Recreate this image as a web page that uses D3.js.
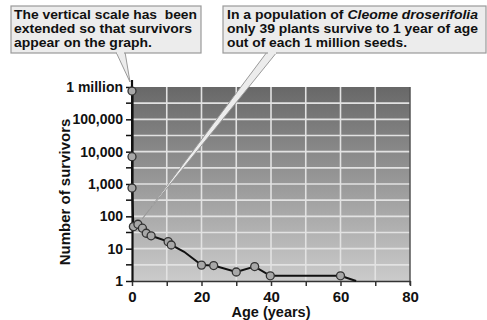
<!DOCTYPE html>
<html>
<head>
<meta charset="utf-8">
<script src="https://cdn.jsdelivr.net/npm/d3@7"></script>
<style>
  body { margin: 0; background: #fff; }
  text { font-family: "Liberation Sans", Arial, Helvetica, sans-serif; font-weight: bold; fill: #111; white-space: pre; }
</style>
</head>
<body>
<div id="chart"></div>
<script>
// Survivorship data
var ages      = [0, 0, 0, 0.4, 1.7, 3, 4.1, 5.5, 10.4, 11.3, 15, 20, 23.5, 30, 35.3, 39.8, 60, 64.5];
var survivors = [750000, 7000, 750, 48, 57, 43, 30, 25, 16.5, 13, 8, 3.1, 3, 1.9, 2.8, 1.45, 1.45, 1];
var marked    = [true, true, true, true, true, true, true, true, true, true, false, true, true, true, true, true, true, false];

// Axis ticks
var yTickValues = [1, 10, 100, 1000, 10000, 100000, 1000000];
var yTickLabels = ["1", "10", "100", "1,000", "10,000", "100,000", "1 million"];
var xTickValues = [0, 10, 20, 30, 40, 50, 60, 70, 80];
var xTickLabels = ["0", "", "20", "", "40", "", "60", "", "80"];

// Callout texts
var note1 = ["The vertical scale has  been", "extended so that survivors", "appear on the graph."];
var note2 = [
  [["In a population of ", false], ["Cleome droserifolia", true]],
  [["only 39 plants survive to 1 year of age", false]],
  [["out of each 1 million seeds.", false]]
];
// widths of the callout lines as measured on the picture
var note1Widths = [183, 178, 138];
var note2Widths = [251, 251, 180];

var svgWidth = 487;
var svgHeight = 320;

var chartMargin = { top: 87, right: 77, bottom: 39, left: 132 };
var chartWidth = svgWidth - chartMargin.left - chartMargin.right;
var chartHeight = svgHeight - chartMargin.top - chartMargin.bottom;

var svg = d3.select("#chart")
  .append("svg")
  .attr("width", svgWidth)
  .attr("height", svgHeight);

var defs = svg.append("defs");
var grad = defs.append("linearGradient")
  .attr("id", "bg")
  .attr("x1", 0).attr("y1", 0).attr("x2", 0).attr("y2", 1);
grad.append("stop").attr("offset", "0%").attr("stop-color", "#686868");
grad.append("stop").attr("offset", "100%").attr("stop-color", "#cbcbcb");

var chartGroup = svg.append("g")
  .attr("transform", `translate(${chartMargin.left}, ${chartMargin.top})`);

var xScale = d3.scaleLinear().domain([0, 80]).range([0, chartWidth]);
var yScale = d3.scaleLog().domain([1, 1000000]).range([chartHeight, 0]);

// Plot background
chartGroup.append("rect")
  .attr("width", chartWidth)
  .attr("height", chartHeight)
  .attr("fill", "url(#bg)");

// Grid lines: decades and half decades
var yGrid = [];
yTickValues.forEach(v => { yGrid.push(v); if (v < 1000000) yGrid.push(v * Math.sqrt(10)); });

chartGroup.append("g")
  .selectAll("line")
  .data(yGrid.filter(v => v > 1 && v < 1000000))
  .enter()
  .append("line")
  .attr("x1", 0).attr("x2", chartWidth)
  .attr("y1", d => yScale(d)).attr("y2", d => yScale(d))
  .attr("stroke", "#e2e2e2")
  .attr("stroke-width", 1.6);

chartGroup.append("g")
  .selectAll("line")
  .data(xTickValues.filter(v => v > 0 && v < 80))
  .enter()
  .append("line")
  .attr("x1", d => xScale(d)).attr("x2", d => xScale(d))
  .attr("y1", 0).attr("y2", chartHeight)
  .attr("stroke", "#e2e2e2")
  .attr("stroke-width", 1.6);

// Right border
chartGroup.append("line")
  .attr("x1", chartWidth).attr("x2", chartWidth)
  .attr("y1", 0).attr("y2", chartHeight + 4)
  .attr("stroke", "#555").attr("stroke-width", 1.5);

// Bottom axis
var bottomAxis = d3.axisBottom(xScale)
  .tickValues(xTickValues)
  .tickFormat((d, i) => xTickLabels[i])
  .tickSize(5)
  .tickSizeOuter(0);

var xAxis = chartGroup.append("g")
  .attr("transform", `translate(0, ${chartHeight})`)
  .call(bottomAxis);
xAxis.select(".domain").attr("stroke", "#333").attr("stroke-width", 1.5);
xAxis.selectAll(".tick line").attr("stroke", "#333").attr("stroke-width", 1.5);
xAxis.selectAll("text")
  .attr("font-size", "15px")
  .attr("font-family", null)
  .attr("y", 10);

// Left axis
var leftAxis = d3.axisLeft(yScale)
  .tickValues(yTickValues)
  .tickFormat((d, i) => yTickLabels[i])
  .tickSize(6)
  .tickSizeOuter(0);

var yAxis = chartGroup.append("g").call(leftAxis);
yAxis.select(".domain").attr("stroke", "#111").attr("stroke-width", 2.2);
yAxis.selectAll(".tick line").attr("stroke", "#111").attr("stroke-width", 1.5);
yAxis.selectAll("text")
  .attr("font-size", "14px")
  .attr("font-family", null)
  .attr("x", -9);

// Axis line runs a little above the top tick
chartGroup.append("line")
  .attr("x1", 0).attr("x2", 0)
  .attr("y1", -7).attr("y2", 0)
  .attr("stroke", "#111").attr("stroke-width", 2.2);

// Minor y ticks
chartGroup.append("g")
  .selectAll("line")
  .data(yGrid.filter(v => yTickValues.indexOf(v) < 0))
  .enter()
  .append("line")
  .attr("x1", -6).attr("x2", 0)
  .attr("y1", d => yScale(d)).attr("y2", d => yScale(d))
  .attr("stroke", "#111").attr("stroke-width", 1.5);

// Axis titles
chartGroup.append("text")
  .attr("x", chartWidth / 2)
  .attr("y", chartHeight + 36)
  .attr("text-anchor", "middle")
  .attr("font-size", "14.5px")
  .text("Age (years)");

chartGroup.append("text")
  .attr("transform", `translate(${-62}, ${chartHeight / 2 + 8}) rotate(-90)`)
  .attr("text-anchor", "middle")
  .attr("font-size", "15px")
  .text("Number of survivors");

var pts = ages.map((a, i) => ({ age: a, n: survivors[i], mark: marked[i] }));

function callout(box, base, tip) {
  var g = svg.append("g");
  g.append("path")
    .attr("d", `M${base[0]},${box.y + box.h - 1} L${tip[0]},${tip[1]} L${base[1]},${box.y + box.h - 1}`)
    .attr("fill", "#ececec")
    .attr("stroke", "#9a9a9a")
    .attr("stroke-width", 1);
  g.append("rect")
    .attr("x", box.x).attr("y", box.y)
    .attr("width", box.w).attr("height", box.h)
    .attr("fill", "#ececec")
    .attr("stroke", "#9a9a9a")
    .attr("stroke-width", 1.2);
  g.append("line")
    .attr("x1", base[0] + 1).attr("x2", base[1] - 1)
    .attr("y1", box.y + box.h).attr("y2", box.y + box.h)
    .attr("stroke", "#ececec").attr("stroke-width", 2);
  return g;
}

// Callout 2 sits under the curve
var box2 = { x: 223, y: 6, w: 263, h: 47 };
var c2 = callout(box2,
  [267, 277],
  [chartMargin.left + xScale(3), chartMargin.top + yScale(85)]);

// Survivorship curve
var line = d3.line()
  .x(d => xScale(d.age))
  .y(d => yScale(d.n));

chartGroup.append("path")
  .datum(pts)
  .attr("d", line)
  .attr("fill", "none")
  .attr("stroke", "#111")
  .attr("stroke-width", 2);

chartGroup.append("g")
  .selectAll("circle")
  .data(pts.filter(d => d.mark))
  .enter()
  .append("circle")
  .attr("cx", d => xScale(d.age))
  .attr("cy", d => yScale(d.n))
  .attr("r", 4)
  .attr("fill", "#a8a8a8")
  .attr("stroke", "#333")
  .attr("stroke-width", 1.3);

// Callout 1
var box1 = { x: 11, y: 6, w: 190, h: 47 };
var c1 = callout(box1, [116, 125], [130, 82]);

note1.forEach((t, i) => {
  c1.append("text")
    .attr("x", box1.x + 3)
    .attr("y", box1.y + 13 + i * 14)
    .attr("font-size", "13.5px")
    .attr("textLength", note1Widths[i])
    .attr("lengthAdjust", "spacingAndGlyphs")
    .text(t);
});

note2.forEach((parts, i) => {
  var t = c2.append("text")
    .attr("x", box2.x + 4)
    .attr("y", box2.y + 13 + i * 14)
    .attr("font-size", "13.5px")
    .attr("textLength", note2Widths[i])
    .attr("lengthAdjust", "spacingAndGlyphs");
  parts.forEach(p => {
    t.append("tspan")
      .attr("font-style", p[1] ? "italic" : "normal")
      .text(p[0]);
  });
});
</script>
</body>
</html>
